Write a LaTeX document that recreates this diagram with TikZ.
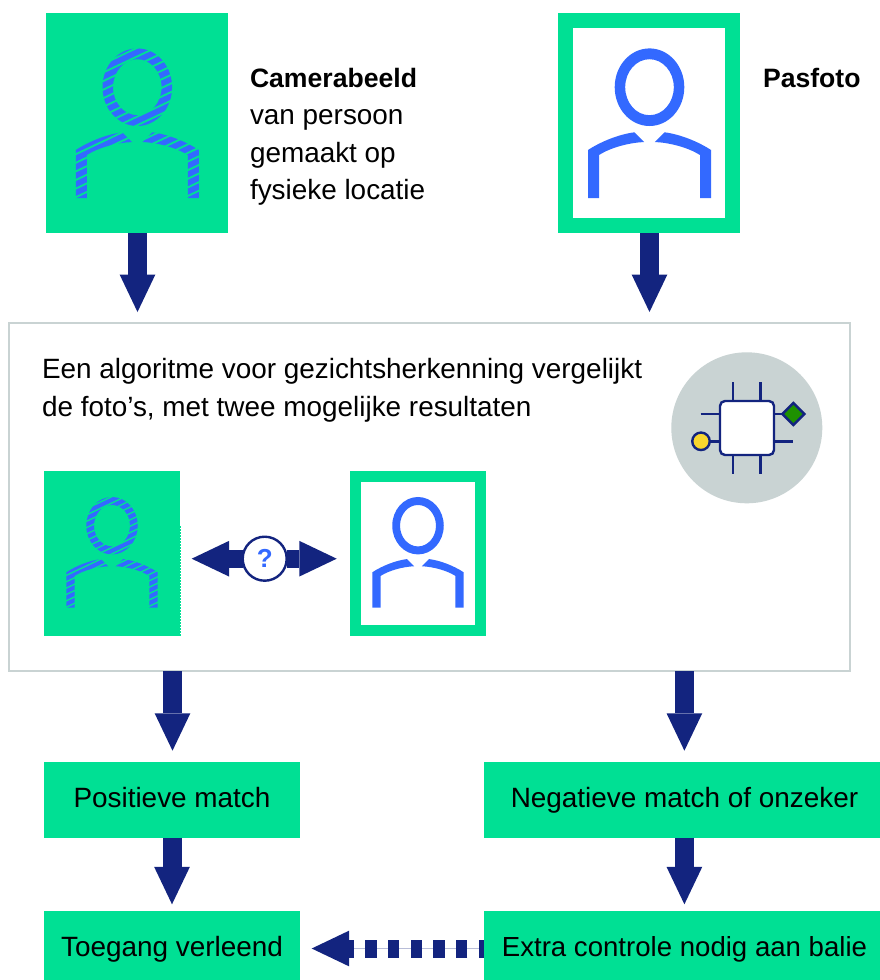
\documentclass[tikz,border=0pt]{standalone}
\usepackage{fontspec}
\setmainfont{Liberation Sans}
\usetikzlibrary{arrows.meta}
\definecolor{mint}{HTML}{00E094}
\definecolor{iconblue}{HTML}{3369FF}
\definecolor{navy}{HTML}{13247F}
\definecolor{greyc}{HTML}{C9D3D3}
\definecolor{chipgreen}{HTML}{1E9100}
\definecolor{chipyellow}{HTML}{F9D62E}
\newcommand{\personicon}[3]{%
  \begin{scope}[shift={(#1,#2)},scale=#3]
    \fill[iconblue,even odd rule] (0,0) ellipse [x radius=34.8,y radius=38.8] (0,0) ellipse [x radius=24.3,y radius=28];
    \foreach \m in {1,-1}{
      \fill[iconblue,xscale=\m] (-61.5,110.8) -- (-50.5,110.8) -- (-50.5,67.8)
        .. controls (-38,60) and (-20,55.5) .. (-5.3,54.8) -- (-15,45.1)
        .. controls (-30,47) and (-48,54) .. (-61.5,62.8) -- cycle;
    }
  \end{scope}}
\newcommand{\personstripes}[3]{%
  \begin{scope}[shift={(#1,#2)},scale=#3]
    \clip (-64,-42) rectangle (64,113);
    \foreach \k in {-8,...,28}{
      \draw[mint,line width=1.9pt*#3] (-70,-45+\k*8.6+30) -- (70,-45+\k*8.6-36);
    }
  \end{scope}}
\tikzset{
  greenbox/.style={fill=mint,draw=none,inner sep=0pt,outer sep=0pt,text=black,font=\fontsize{27.9}{32}\selectfont},
  labeltext/.style={inner sep=0pt,outer sep=0pt,text=black,align=left,font=\fontsize{27.9}{37.5}\selectfont},
  headtip/.style={-{Triangle[length=37.4pt,width=35.7pt,line width=0pt,fill=navy]}},
  bigarrow/.style={draw=navy,line width=19pt,headtip},
}
\begin{document}
\begin{tikzpicture}[x=1pt,y=-1pt]
\useasboundingbox (0,0) rectangle (880,980);
% top boxes
\node[greenbox,minimum width=182pt,minimum height=220pt] (cam) at (137,123) {};
\personicon{137.3}{87.2}{1}
\personstripes{137.3}{87.2}{1}
\node[greenbox,minimum width=182pt,minimum height=220pt] (pas) at (649,123) {};
\fill[white] (573,28) rectangle (725,218);
\personicon{649.5}{87.2}{1}
\node[labeltext,anchor=base west] (camtext) at (250,199.5) {{\fontsize{26.6}{37.5}\selectfont\textbf{Camerabeeld}}\\van persoon\\gemaakt op\\fysieke locatie};
\node[labeltext,anchor=base west] (pastext) at (763,87) {{\fontsize{26.6}{37.5}\selectfont\textbf{Pasfoto}}};
% frame
\node[draw=greyc,line width=2.5pt,fill=white,inner sep=0pt,outer sep=0pt,minimum width=841pt,minimum height=348pt] (frame) at (429.5,497) {};
\node[labeltext,anchor=base west] (frametext) at (42,416) {Een algoritme voor gezichtsherkenning vergelijkt\\de foto’s, met twee mogelijke resultaten};
% chip
\node[fill=greyc,circle,inner sep=0pt,outer sep=0pt,minimum size=151pt] (chipbg) at (746.8,427.8) {};
\begin{scope}[navy,line width=2.4pt]
  \draw (733,382) -- (733,474);
  \draw (760.3,382) -- (760.3,474);
  \draw (700.7,414) -- (793,414);
  \draw (701,441.3) -- (792.7,441.3);
  \node[draw,fill=white,rounded corners=5pt,inner sep=0pt,outer sep=0pt,minimum size=54pt] (chip) at (747,428) {};
  \node[draw,fill=chipyellow,circle,inner sep=0pt,outer sep=0pt,minimum size=17.5pt] (chipin) at (701,441.3) {};
  \fill[draw=navy,fill=chipgreen] (793.3,403) -- (804.3,414) -- (793.3,425) -- (782.3,414) -- cycle;
\end{scope}
% small boxes
\node[greenbox,minimum width=136pt,minimum height=165pt] (sa) at (112,553.5) {};
\personicon{112}{525.7}{0.74}
\personstripes{112}{525.7}{0.74}
\draw[mint,line width=1pt,dash pattern=on 1.5pt off 1.5pt] (180.5,526) -- (180.5,636);
\node[greenbox,minimum width=136pt,minimum height=165pt] (sb) at (418,553.5) {};
\fill[white] (361,482) rectangle (475,625);
\personicon{418}{525.7}{0.74}
% double arrow
\node[draw=navy,line width=2.4pt,fill=white,circle,inner sep=0pt,outer sep=0pt,minimum size=44pt,text=iconblue,font=\fontsize{26}{28}\selectfont\bfseries] (q) at (264.7,558.7) {?};
\draw[navy,line width=18.3pt,headtip,shorten >=11.7pt,shorten <=22pt] (q.center) -- (q.center -| sa.east);
\draw[navy,line width=18.3pt,headtip,shorten >=13.3pt,shorten <=22pt] (q.center) -- (q.center -| sb.west);
% result boxes
\node[greenbox,minimum width=256pt,minimum height=75.5pt,text height=16.4pt,text depth=0pt] (pos) at (172,799.75) {Positieve match};
\node[greenbox,minimum width=396pt,minimum height=75.5pt,text height=16.4pt,text depth=0pt] (neg) at (682,799.75) {\hspace*{5pt}Negatieve match of onzeker};
\node[greenbox,minimum width=256pt,minimum height=69pt,text height=22.4pt,text depth=0pt] (ok) at (172,945.5) {Toegang verleend};
\node[greenbox,minimum width=396pt,minimum height=69pt,text height=22.4pt,text depth=0pt] (extra) at (682,945.5) {\hspace*{5pt}\fontsize{27.6}{32}\selectfont Extra controle nodig aan balie};
% arrows
\draw[bigarrow,shorten >=11pt] ([xshift=.5pt]cam.south) -- ([xshift=.5pt]cam.south |- frame.north);
\draw[bigarrow,shorten >=11pt] ([xshift=.5pt]pas.south) -- ([xshift=.5pt]pas.south |- frame.north);
\draw[bigarrow,shorten >=11.3pt] ([xshift=.5pt]pos.north |- frame.south) -- ([xshift=.5pt]pos.north);
\draw[bigarrow,shorten >=11.3pt] ([xshift=2.4pt]neg.north |- frame.south) -- ([xshift=2.4pt]neg.north);
\draw[bigarrow,shorten >=6.7pt] (pos.south) -- (ok.north);
\draw[bigarrow,shorten >=6.7pt] ([xshift=2.4pt]neg.south) -- ([xshift=2.4pt]extra.north);
% dashed arrow
\coordinate (dashstart) at (extra.west |- 0,948.5);
\coordinate (dashend) at (ok.east |- 0,948.5);
\draw[navy!30,line width=1pt] (dashstart) -- (340,948.5);
\draw[navy,line width=18pt,dash pattern=on 11.4pt off 11.3pt,dash phase=6pt,headtip,shorten >=11.7pt] (dashstart) -- (dashend);
\end{tikzpicture}
\end{document}
